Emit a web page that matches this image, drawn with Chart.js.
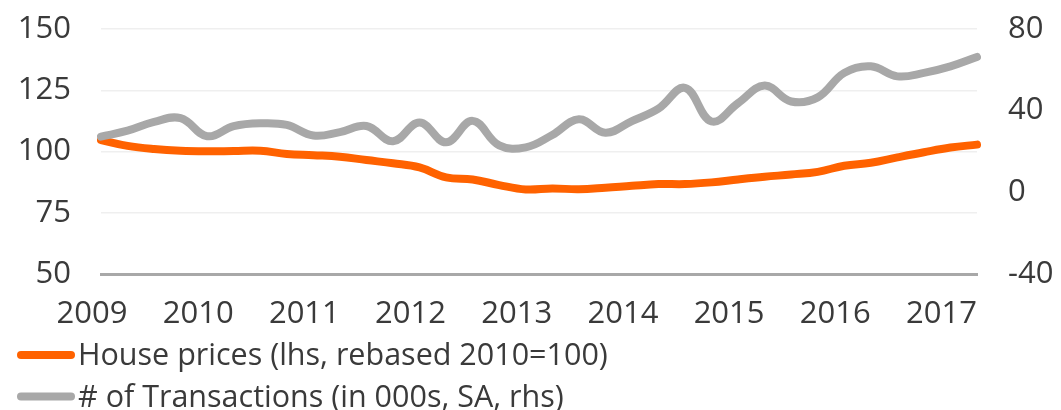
<!DOCTYPE html>
<html>
<head>
<meta charset="utf-8">
<title>House prices and transactions</title>
<script src="https://cdn.jsdelivr.net/npm/chart.js@4/dist/chart.umd.min.js"></script>
<style>
  body { margin: 0; background: #fff; }
  canvas { display: block; }
</style>
</head>
<body>
<canvas id="myChart" width="1061" height="410"></canvas>
<script>
// quarterly data, Q1 2009 - Q2 2017

const quarters = [
  "Q1 2009", "Q2 2009", "Q3 2009", "Q4 2009",
  "Q1 2010", "Q2 2010", "Q3 2010", "Q4 2010",
  "Q1 2011", "Q2 2011", "Q3 2011", "Q4 2011",
  "Q1 2012", "Q2 2012", "Q3 2012", "Q4 2012",
  "Q1 2013", "Q2 2013", "Q3 2013", "Q4 2013",
  "Q1 2014", "Q2 2014", "Q3 2014", "Q4 2014",
  "Q1 2015", "Q2 2015", "Q3 2015", "Q4 2015",
  "Q1 2016", "Q2 2016", "Q3 2016", "Q4 2016",
  "Q1 2017", "Q2 2017",
];

// lhs, rebased 2010 = 100
const housePrices = [
  104.7, 102.3, 101.0, 100.3,
  100.1, 100.2, 100.3, 99.0,
  98.5, 97.9, 96.5, 95.2,
  93.5, 89.4, 88.6, 86.3,
  84.5, 84.9, 84.6, 85.2,
  86.0, 86.7, 86.7, 87.4,
  88.6, 89.7, 90.6, 91.7,
  94.2, 95.4, 97.6, 99.7,
  101.6, 102.8,
];

// rhs, thousands, seasonally adjusted
const transactions = [
  27.3, 30.2, 34.5, 36.3,
  27.5, 32.4, 33.8, 33.0,
  27.8, 29.5, 32.5, 25.0,
  34.2, 24.5, 35.0, 23.0,
  22.0, 28.1, 35.8, 29.2,
  34.9, 41.0, 51.2, 34.7,
  43.7, 52.3, 44.5, 46.5,
  58.5, 61.7, 56.8, 58.5,
  61.7, 66.3,
];

const leftTicks = [50, 75, 100, 125, 150];
const rightTicks = [-40, 0, 40, 80];

const legendLabels = [
  "House prices (lhs, rebased 2010=100)",
  "# of Transactions (in 000s, SA, rhs)",
];

const orange = "#FF6200";
const grey = "#A8A8A8";
const textColor = "#3a3a3a";
const fontFamily = "'Open Sans', sans-serif";

// legend under the chart: thick rounded line sample + label, one row per series
const legendLines = {
  id: "legendLines",
  afterDraw(chart) {
    const ctx = chart.ctx;
    const rows = [355, 396.5];
    chart.data.datasets.forEach((ds, i) => {
      const y = rows[i];
      ctx.save();
      ctx.strokeStyle = ds.borderColor;
      ctx.lineWidth = 8;
      ctx.lineCap = "round";
      ctx.beginPath();
      ctx.moveTo(21, y);
      ctx.lineTo(71, y);
      ctx.stroke();
      ctx.fillStyle = textColor;
      ctx.font = `30.5px ${fontFamily}`;
      ctx.textBaseline = "alphabetic";
      ctx.textAlign = "left";
      ctx.fillText(ds.label, 78, y + 10);
      ctx.restore();
    });
  },
};

// fixed axis boxes so the plot area sits at 101..977 x 29..274
const fixWidth = (w) => (scale) => {
  scale.width = w;
  scale.paddingTop = 0;
  scale.paddingBottom = 0;
};

const ctx = document.getElementById("myChart");

new Chart(ctx, {
  type: "line",
  data: {
    labels: quarters,
    datasets: [
      {
        label: legendLabels[0],
        data: housePrices,
        yAxisID: "y",
        borderColor: orange,
        backgroundColor: orange,
        borderWidth: 8,
        borderCapStyle: "round",
        borderJoinStyle: "round",
        pointRadius: 0,
        tension: 0.4,
        order: 1,
      },
      {
        label: legendLabels[1],
        data: transactions,
        yAxisID: "y1",
        borderColor: grey,
        backgroundColor: grey,
        borderWidth: 8,
        borderCapStyle: "round",
        borderJoinStyle: "round",
        pointRadius: 0,
        tension: 0.4,
        order: 0,
      },
    ],
  },
  options: {
    responsive: false,
    animation: false,
    devicePixelRatio: 1,
    layout: {
      padding: { top: 29, right: 0, bottom: 0, left: 0 },
    },
    plugins: {
      legend: { display: false },
      tooltip: { enabled: false },
    },
    scales: {
      x: {
        offset: false,
        afterFit: (scale) => {
          scale.height = 136;
          scale.paddingLeft = 0;
          scale.paddingRight = 0;
        },
        grid: { display: false },
        border: { display: true, color: grey, width: 3 },
        ticks: {
          autoSkip: false,
          maxRotation: 0,
          padding: 14,
          labelOffset: -9,
          color: textColor,
          font: { family: fontFamily, size: 31 },
          callback: function (value, index) {
            const label = quarters[index];
            return label.startsWith("Q1") ? label.slice(3) : "";
          },
        },
      },
      y: {
        position: "left",
        min: leftTicks[0],
        max: leftTicks[leftTicks.length - 1],
        afterFit: fixWidth(101),
        afterBuildTicks: (scale) => {
          scale.ticks = leftTicks.map((v) => ({ value: v }));
        },
        grid: { color: "#efefef", lineWidth: 1.5, drawTicks: false },
        border: { display: false },
        ticks: {
          padding: 30,
          color: textColor,
          font: { family: fontFamily, size: 31 },
        },
      },
      y1: {
        position: "right",
        min: rightTicks[0],
        max: rightTicks[rightTicks.length - 1],
        afterFit: fixWidth(84),
        afterBuildTicks: (scale) => {
          scale.ticks = rightTicks.map((v) => ({ value: v }));
        },
        grid: { display: false, drawTicks: false },
        border: { display: false },
        ticks: {
          padding: 31,
          color: textColor,
          font: { family: fontFamily, size: 31 },
        },
      },
    },
  },
  plugins: [legendLines],
});
</script>
</body>
</html>
